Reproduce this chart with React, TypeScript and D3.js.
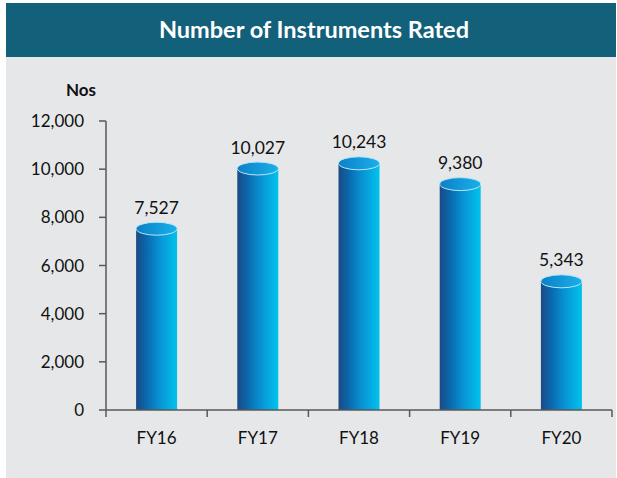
import React from "react";
import * as d3 from "d3";

const categories = ["FY16", "FY17", "FY18", "FY19", "FY20"];
const values = [7527, 10027, 10243, 9380, 5343];
const yTicks = [0, 2000, 4000, 6000, 8000, 10000, 12000];
const title = "Number of Instruments Rated";
const unitLabel = "Nos";

const W = 617;
const H = 478;
const FONT = "Lato, 'Open Sans', sans-serif";

export default function App() {
  const x = d3.scaleBand<string>().domain(categories).range([106, 612]).paddingInner(0).paddingOuter(0);
  const y = d3.scaleLinear().domain([0, 12000]).range([410, 121]);
  const barW = 41;
  const ry = 6.5;
  const fmt = d3.format(",");

  return (
    <svg
      width={W}
      height={H}
      style={{ position: "absolute", left: 0, top: 0 }}
      fontFamily={FONT}
    >
      <defs>
        <linearGradient id="body" x1="0" x2="1" y1="0" y2="0">
          <stop offset="0%" stopColor="#1b4b84" />
          <stop offset="25%" stopColor="#0a68ad" />
          <stop offset="60%" stopColor="#0896d6" />
          <stop offset="100%" stopColor="#00c3ec" />
        </linearGradient>
        <linearGradient id="top" x1="0" x2="1" y1="0" y2="0">
          <stop offset="0%" stopColor="#0b80c8" />
          <stop offset="100%" stopColor="#1ab0ea" />
        </linearGradient>
      </defs>
      <rect x={0} y={0} width={W} height={H} fill="#ffffff" />
      <rect x={6} y={57} width={610} height={421} fill="#e6e7e9" />
      <rect x={6} y={3} width={610} height={54} fill="#12607a" />
      <text
        x={314}
        y={38}
        textAnchor="middle"
        fill="#ffffff"
        fontSize={23.5}
        fontWeight="bold"
      >
        {title}
      </text>

      <text x={81} y={96} textAnchor="middle" fontSize={17} fontWeight="bold" fill="#111">
        {unitLabel}
      </text>

      {/* y axis */}
      <line x1={106} x2={106} y1={y(12000)} y2={y(0)} stroke="#595959" strokeWidth={1.5} />
      {yTicks.map((t) => (
        <g key={t}>
          <line x1={99} x2={106} y1={y(t)} y2={y(t)} stroke="#595959" strokeWidth={1.5} />
          <text x={84} y={y(t) + 6} textAnchor="end" fontSize={17} fill="#111">
            {fmt(t)}
          </text>
        </g>
      ))}

      {/* bars */}
      {categories.map((c, i) => {
        const cx = (x(c) as number) + x.bandwidth() / 2;
        const yv = y(values[i]);
        return (
          <g key={c}>
            <rect x={cx - barW / 2} y={yv} width={barW} height={y(0) - yv} fill="url(#body)" />
            <ellipse
              cx={cx}
              cy={yv}
              rx={barW / 2}
              ry={ry}
              fill="url(#top)"
              stroke="#b8e6f8"
              strokeWidth={1}
            />
            <text x={cx} y={yv - 15} textAnchor="middle" fontSize={17.5} fill="#111">
              {fmt(values[i])}
            </text>
          </g>
        );
      })}

      {/* x axis */}
      <line x1={106} x2={612} y1={410} y2={410} stroke="#595959" strokeWidth={1.5} />
      {[...categories.map((c) => x(c) as number), 612].map((tx, i) => (
        <line key={i} x1={tx} x2={tx} y1={410} y2={417} stroke="#595959" strokeWidth={1.5} />
      ))}
      {categories.map((c) => (
        <text
          key={c}
          x={(x(c) as number) + x.bandwidth() / 2}
          y={444}
          textAnchor="middle"
          fontSize={17}
          fill="#111"
        >
          {c}
        </text>
      ))}
    </svg>
  );
}
